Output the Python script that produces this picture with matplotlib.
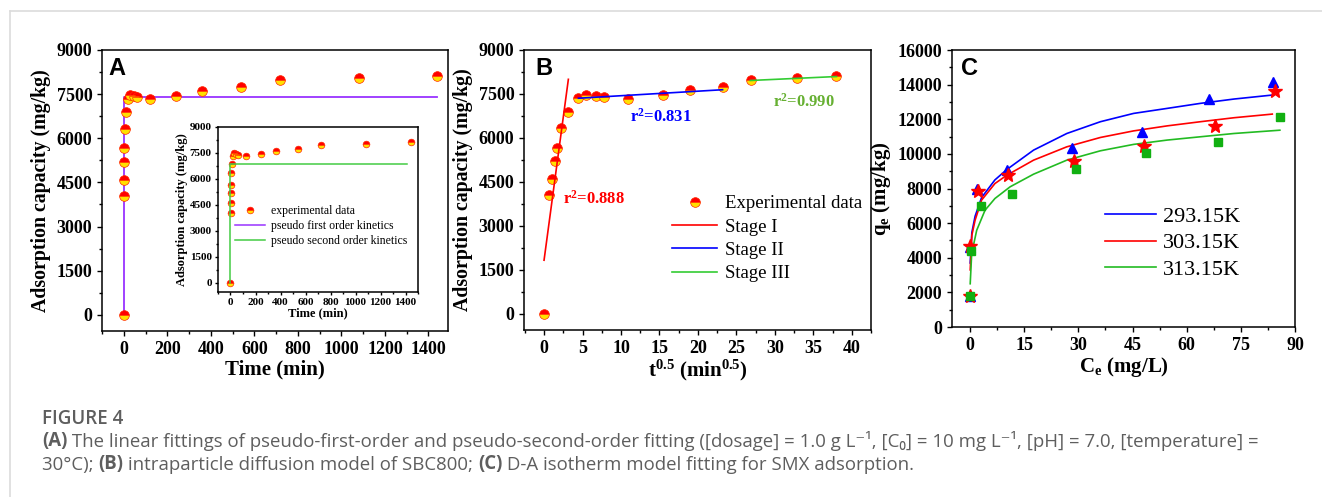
import matplotlib
matplotlib.use('Agg')
import matplotlib.pyplot as plt
import numpy as np
from matplotlib.lines import Line2D
from matplotlib.ticker import MultipleLocator, AutoMinorLocator

plt.rcParams['font.family'] = 'Liberation Serif'
plt.rcParams['font.weight'] = 'bold'
plt.rcParams['axes.labelweight'] = 'bold'
plt.rcParams['mathtext.fontset'] = 'custom'
plt.rcParams['mathtext.rm'] = 'Liberation Serif:bold'
plt.rcParams['mathtext.bf'] = 'Liberation Serif:bold'
plt.rcParams['mathtext.it'] = 'Liberation Serif:bold'
plt.rcParams['mathtext.default'] = 'bf'

# kinetics data (A, B)
time_min = [0, 0.5, 1, 2, 3, 5, 10, 20, 30, 45, 60, 120, 240, 360, 540, 720, 1080, 1440]
q_t = [0, 4050, 4590, 5200, 5670, 6330, 6890, 7350, 7480, 7440, 7390, 7340,
       7450, 7620, 7730, 7970, 8040, 8110]

# fitted lines
pfo_time = [0, 0, 1440]
pfo_q = [0, 7400, 7400]
pso_time = [0, 0, 1410]
pso_q = [0, 6880, 6880]

stage1_t = [0, 3.16]
stage1_q = [1830, 8000]
stage2_t = [4.47, 23.2]
stage2_q = [7355, 7645]
stage3_t = [26.8, 38.0]
stage3_q = [7960, 8095]
r2_labels = ['r$^2$=0.888', 'r$^2$=0.831', 'r$^2$=0.990']

# isotherm data (C)
temps = ['293.15K', '303.15K', '313.15K']
ce_293 = [0, 0, 2.0, 10.2, 28.2, 47.5, 66.3, 84.0]
qe_293 = [1800, 4650, 7980, 9060, 10370, 11280, 13150, 14170]
ce_303 = [0, 0, 2.1, 10.6, 28.8, 48.1, 67.7, 84.4]
qe_303 = [1800, 4670, 7870, 8770, 9600, 10470, 11620, 13610]
ce_313 = [0.05, 0.4, 3.05, 11.75, 29.3, 48.6, 68.7, 85.8]
qe_313 = [1780, 4380, 6980, 7670, 9120, 10060, 10700, 12160]

# D-A fit curves
fit_ce_293 = [0.05, 0.5, 1.4, 3.2, 6.9, 10.2, 17.6, 26.8, 36.1, 45.3, 54.6, 63.8, 73.1, 83.7]
fit_qe_293 = [3700, 5450, 6400, 7480, 8500, 9100, 10220, 11180, 11860, 12340, 12630, 12920,
              13170, 13400]
fit_ce_303 = [0.05, 0.5, 1.4, 3.2, 6.9, 10.2, 17.6, 26.8, 36.1, 45.3, 54.6, 63.8, 73.1, 83.7]
fit_qe_303 = [3300, 5300, 6170, 7330, 8290, 8770, 9640, 10410, 10950, 11330, 11620, 11860,
              12090, 12300]
fit_ce_313 = [0.05, 0.46, 1.85, 4.16, 6.9, 11.1, 17.6, 26.8, 36.1, 45.3, 54.6, 63.8, 73.1, 85.8]
fit_qe_313 = [2500, 4250, 5590, 6750, 7425, 8100, 8830, 9640, 10180, 10550, 10800, 10990,
              11180, 11370]

fig = plt.figure(figsize=(13.22, 4.97), dpi=100)

# light page frame
fig.add_artist(Line2D([10 / 1322, 1], [1 - 11 / 497, 1 - 11 / 497], color='#dcdcdc', lw=1.2))
fig.add_artist(Line2D([10 / 1322, 10 / 1322], [0, 1 - 11 / 497], color='#dcdcdc', lw=1.2))


def style_axes(ax, fs=13):
    for s in ax.spines.values():
        s.set_linewidth(1.1)
    ax.tick_params(which='both', direction='out', top=False, right=False,
                   labelsize=fs, width=1.0)
    ax.tick_params(which='major', length=3.5)
    ax.tick_params(which='minor', length=2)
    ax.xaxis.set_minor_locator(AutoMinorLocator(2))
    ax.yaxis.set_minor_locator(AutoMinorLocator(2))


def exp_points(ax, x, y, ms, label=None):
    ax.plot(x, y, ls='none', marker='o', ms=ms, fillstyle='top',
            markerfacecolor='red', markerfacecoloralt='#ffe000',
            markeredgecolor='#ff2a00', markeredgewidth=0.5, label=label)


# ---- panel A
axA = fig.add_axes([0.0772, 0.334, 0.2617, 0.5654])
axA.plot(pfo_time, pfo_q, color='#9933ff', lw=1.3)
exp_points(axA, time_min, q_t, 7)
axA.set_xlim(-100, 1490)
axA.set_ylim(-550, 9000)
axA.xaxis.set_major_locator(MultipleLocator(200))
axA.yaxis.set_major_locator(MultipleLocator(1500))
style_axes(axA)
axA.set_xlabel('Time (min)', fontsize=15, labelpad=1)
axA.set_ylabel('Adsorption capacity (mg/kg)', fontsize=14.3, labelpad=4)
axA.text(0.017, 0.975, 'A', transform=axA.transAxes, ha='left', va='top',
         family='Liberation Sans', fontsize=17, fontweight='bold')

# inset
axI = fig.add_axes([0.1649, 0.4125, 0.1513, 0.332])
exp_points(axI, time_min, q_t, 4.8, label='experimental data')
axI.plot([], [], color='#9933ff', lw=1.1, label='pseudo first order kinetics')
axI.plot(pso_time, pso_q, color='#44cc44', lw=1.1, label='pseudo second order kinetics')
axI.set_xlim(-100, 1500)
axI.set_ylim(-520, 9000)
axI.xaxis.set_major_locator(MultipleLocator(200))
axI.yaxis.set_major_locator(MultipleLocator(1500))
style_axes(axI, fs=8)
axI.tick_params(which='major', length=2.5, pad=2)
axI.tick_params(which='minor', length=1.5)
axI.set_xlabel('Time (min)', fontsize=9, labelpad=0)
axI.set_ylabel('Adsorption capacity (mg/kg)', fontsize=9, labelpad=1)
axI.legend(loc='center left', bbox_to_anchor=(0.06, 0.4), frameon=False,
           prop={'family': 'Liberation Serif', 'weight': 'normal', 'size': 8.5},
           handlelength=2.6, labelspacing=0.25, borderaxespad=0, handletextpad=0.5)

# ---- panel B
axB = fig.add_axes([0.3964, 0.336, 0.2625, 0.5634])
sqrt_t = np.sqrt(time_min)
exp_points(axB, sqrt_t, q_t, 7, label='Experimental data')
axB.plot(stage1_t, stage1_q, color='red', lw=1.2, label='Stage I')
axB.plot(stage2_t, stage2_q, color='blue', lw=1.2, label='Stage II')
axB.plot(stage3_t, stage3_q, color='#33cc33', lw=1.2, label='Stage III')
axB.text(2.4, 3940, r2_labels[0], color='red', fontsize=12, va='center')
axB.text(11.2, 6710, r2_labels[1], color='blue', fontsize=12, va='center')
axB.text(29.8, 7245, r2_labels[2], color='#66b032', fontsize=12, va='center')
axB.set_xlim(-2.6, 42.5)
axB.set_ylim(-550, 9000)
axB.xaxis.set_major_locator(MultipleLocator(5))
axB.yaxis.set_major_locator(MultipleLocator(1500))
style_axes(axB)
axB.set_xlabel('t$^{0.5}$ (min$^{0.5}$)', fontsize=15, labelpad=1)
axB.set_ylabel('Adsorption capacity (mg/kg)', fontsize=14.3, labelpad=4)
axB.legend(loc='center left', bbox_to_anchor=(0.405, 0.326), frameon=False,
           prop={'family': 'Liberation Serif', 'weight': 'normal', 'size': 13.5},
           handlelength=2.4, labelspacing=0.33, borderaxespad=0, handletextpad=0.4)
axB.text(0.032, 0.975, 'B', transform=axB.transAxes, ha='left', va='top',
         family='Liberation Sans', fontsize=17, fontweight='bold')

# ---- panel C
axC = fig.add_axes([0.7201, 0.342, 0.2595, 0.5573])
axC.plot(fit_ce_293, fit_qe_293, color='blue', lw=1.2, label=temps[0])
axC.plot(fit_ce_303, fit_qe_303, color='red', lw=1.2, label=temps[1])
axC.plot(fit_ce_313, fit_qe_313, color='#22bb22', lw=1.2, label=temps[2])
axC.plot(ce_293, qe_293, ls='none', marker='^', ms=7.5, color='blue')
axC.plot(ce_303, qe_303, ls='none', marker='*', ms=10, color='red')
axC.plot(ce_313, qe_313, ls='none', marker='s', ms=6, color='#11b011')
axC.set_xlim(-5, 90)
axC.set_ylim(0, 16000)
axC.xaxis.set_major_locator(MultipleLocator(15))
axC.yaxis.set_major_locator(MultipleLocator(2000))
style_axes(axC)
axC.set_xlabel('C$_e$ (mg/L)', fontsize=15, labelpad=1)
axC.set_ylabel('q$_e$ (mg/kg)', fontsize=15, labelpad=3)
axC.legend(loc='center left', bbox_to_anchor=(0.42, 0.303), frameon=False,
           prop={'family': 'Liberation Serif', 'weight': 'normal', 'size': 16},
           handlelength=2.3, labelspacing=0.28, borderaxespad=0, handletextpad=0.3)
axC.text(0.025, 0.975, 'C', transform=axC.transAxes, ha='left', va='top',
         family='Liberation Sans', fontsize=17, fontweight='bold')

# ---- caption
cap = fig.add_axes([0, 0, 1, 1])
cap.axis('off')
cap_font = ['Open Sans', 'DejaVu Sans']
cap_color = '#5e5e5e'
cap.text(42 / 1322, 1 - 424 / 497, 'FIGURE 4', family=cap_font, fontsize=13.5,
         fontweight='semibold', color=cap_color, va='baseline')

line1 = [('(A)', 'bold'),
         (' The linear fittings of pseudo-first-order and pseudo-second-order fitting '
          '([dosage] = 1.0 g L\u207b\u00b9, [C\u2080] = 10 mg L\u207b\u00b9, [pH] = 7.0, '
          '[temperature] =', 'normal')]
line2 = [('30\u00b0C); ', 'normal'), ('(B)', 'bold'),
         (' intraparticle diffusion model of SBC800; ', 'normal'), ('(C)', 'bold'),
         (' D-A isotherm model fitting for SMX adsorption.', 'normal')]

for pieces, base in [(line1, 451), (line2, 474)]:
    prev = None
    for txt, w in pieces:
        if prev is None:
            prev = cap.text(42 / 1322, 1 - base / 497, txt, family=cap_font, fontsize=13.45,
                            fontweight=w, color=cap_color, va='bottom')
        else:
            prev = cap.annotate(txt, xy=(1, 0), xycoords=prev, va='bottom', ha='left',
                                family=cap_font, fontsize=13.45, fontweight=w, color=cap_color)

fig.savefig('out.png', dpi=100)
